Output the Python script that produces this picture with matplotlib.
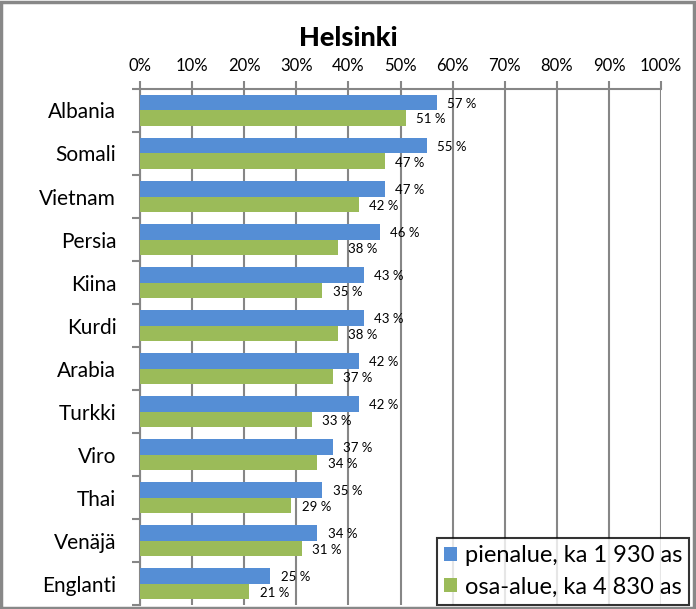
import numpy as np
import matplotlib
matplotlib.use("Agg")
from matplotlib import pyplot as plt

plt.rcParams['font.family'] = ['Lato', 'DejaVu Sans']

languages = ["Albania", "Somali", "Vietnam", "Persia", "Kiina", "Kurdi",
             "Arabia", "Turkki", "Viro", "Thai", "Venäjä", "Englanti"]
pienalue = [57, 55, 47, 46, 43, 43, 42, 42, 37, 35, 34, 25]
osa_alue = [51, 47, 42, 38, 35, 38, 37, 33, 34, 29, 31, 21]
series_names = ["pienalue, ka 1 930 as", "osa-alue, ka 4 830 as"]
x_ticks = list(range(0, 101, 10))

BLUE = "#558ed5"
GREEN = "#9bbb59"
GRID = "#868686"

fig = plt.figure(figsize=(6.96, 6.09), dpi=100)
# gray border round the whole picture
fig.patches.append(plt.Rectangle((0.002, 0.002), 0.995, 0.995, transform=fig.transFigure,
                                 fill=False, edgecolor="#888888", linewidth=2.5))
ax = fig.add_axes([0.201, 0.006, 0.749, 0.848])

y = np.arange(len(languages))
h = 0.36
ax.barh(y - h / 2, pienalue, height=h, color=BLUE, label=series_names[0], zorder=3)
ax.barh(y + h / 2, osa_alue, height=h, color=GREEN, label=series_names[1], zorder=3)

for i in range(len(languages)):
    ax.text(pienalue[i] + 2.0, y[i] - h / 2 + 0.03, f"{pienalue[i]} %", va="center",
            ha="left", fontsize=9.5, zorder=4)
    ax.text(osa_alue[i] + 2.0, y[i] + h / 2 + 0.03, f"{osa_alue[i]} %", va="center",
            ha="left", fontsize=9.5, zorder=4)

ax.set_xlim(0, 100)
ax.set_ylim(len(languages) - 0.5, -0.5)
ax.xaxis.tick_top()
ax.set_xticks(x_ticks)
ax.set_xticklabels([f"{t}%" for t in x_ticks], fontsize=12)
ax.tick_params(axis="x", length=6, width=1.5, color=GRID, pad=5)
ax.set_yticks(np.arange(len(languages) + 1) - 0.5, minor=True)
ax.set_yticks(y)
ax.set_yticklabels(languages, fontsize=15)
ax.tick_params(axis="y", which="major", length=0, pad=17)
ax.tick_params(axis="y", which="minor", length=6, width=1.5, color=GRID)
ax.grid(axis="x", color=GRID, linewidth=1.5, zorder=0)

for side in ["right", "bottom"]:
    ax.spines[side].set_visible(False)
ax.spines["top"].set_color(GRID)
ax.spines["top"].set_linewidth(1.5)
ax.spines["left"].set_color(GRID)
ax.spines["left"].set_linewidth(1.5)

fig.text(0.5, 0.938, "Helsinki", ha="center", va="center", fontsize=19.5, fontweight="black")

leg = ax.legend(loc="lower right", bbox_to_anchor=(1.063, -0.008), fontsize=17,
                frameon=True, fancybox=False, handlelength=0.55, handleheight=0.55,
                handletextpad=0.35, borderpad=0.3, labelspacing=0.45, borderaxespad=0.2)
leg.get_frame().set_edgecolor("black")
leg.get_frame().set_linewidth(1.5)
leg.set_zorder(5)

plt.savefig("out.png", dpi=100)
